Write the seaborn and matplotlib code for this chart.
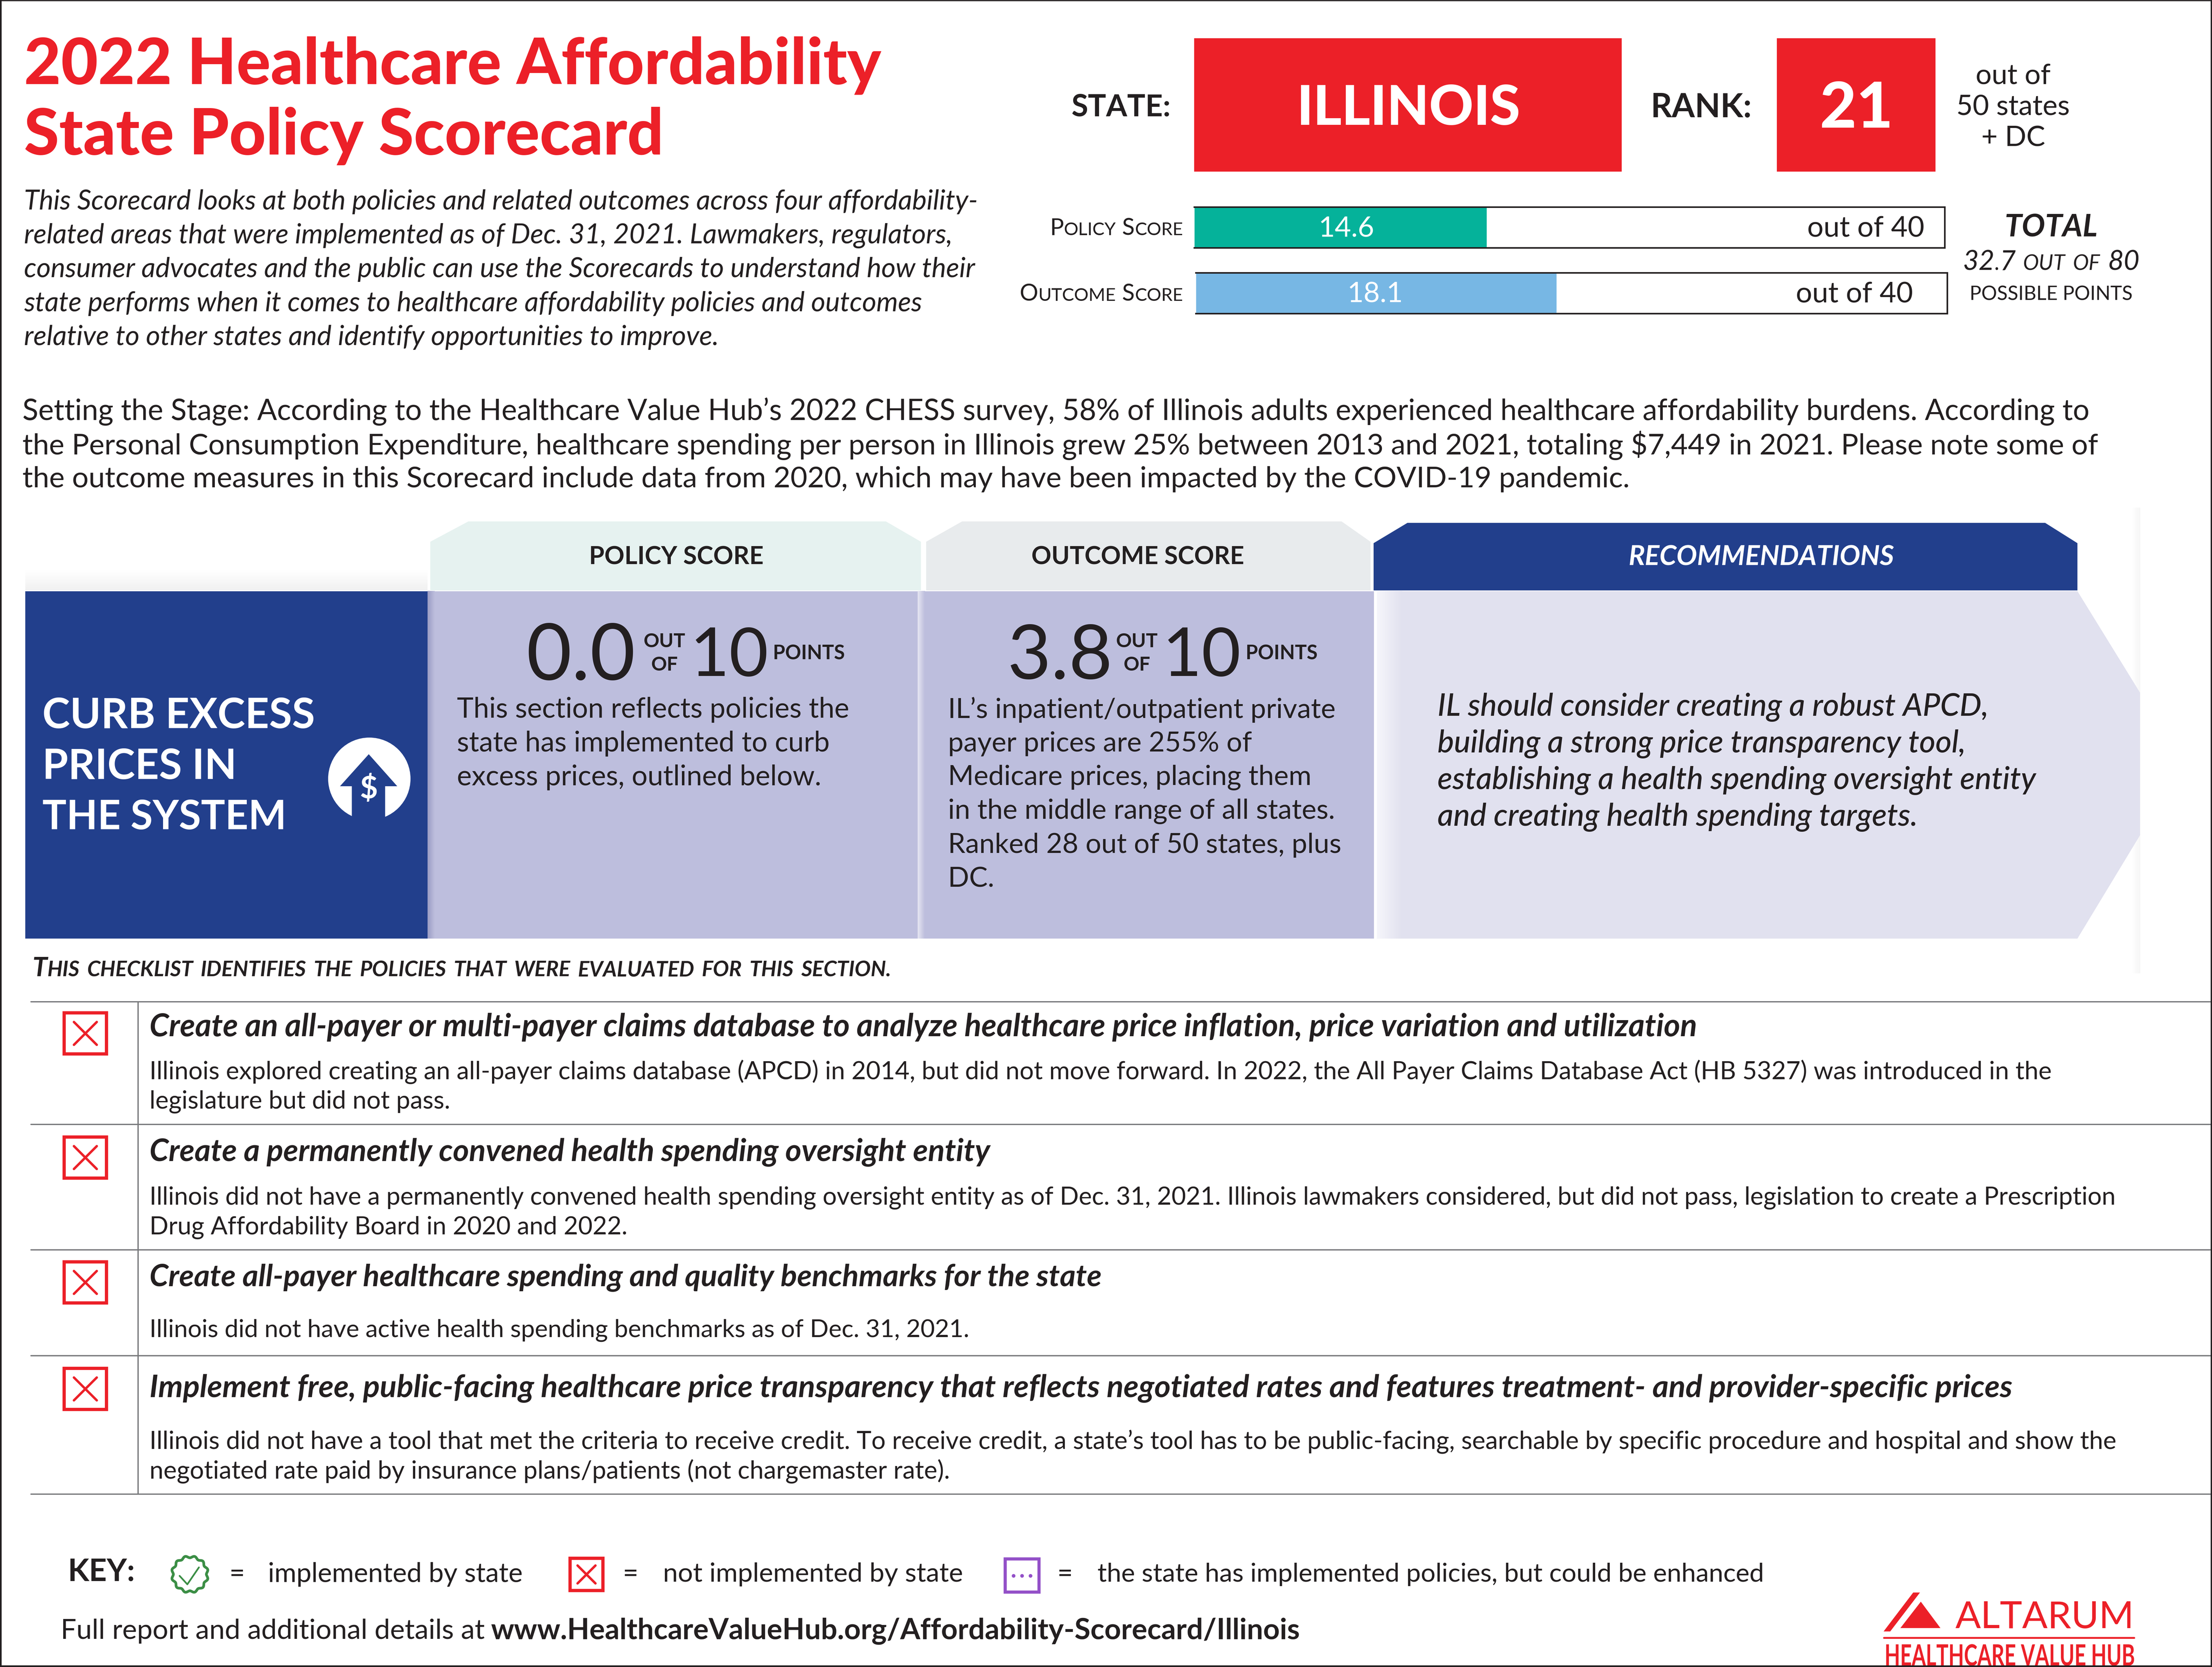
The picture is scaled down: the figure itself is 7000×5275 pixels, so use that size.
#!/usr/bin/env python
import numpy as np
import seaborn as sns
import matplotlib
matplotlib.use('Agg')
import matplotlib.pyplot as plt
from matplotlib.colors import to_rgb
from matplotlib.patches import Polygon, Rectangle, Circle
from matplotlib.patheffects import AbstractPathEffect
from matplotlib.transforms import Affine2D

W, H = 1568, 1181.6  # page units, 1 unit = 4.464 px on the saved file
PT = 7000 / W * 0.72

RED = '#EC2028'
NAVY = '#223F8C'
LILAC = '#BDBEDD'
PALE = '#E1E1EF'
INK = '#231F20'
TEAL = '#05B29A'
SKY = '#77B7E4'
PURPLE = '#9350C8'
GREEN = '#3B8E45'

title_lines = ['2022 Healthcare Affordability', 'State Policy Scorecard']
intro_lines = [
    'This Scorecard looks at both policies and related outcomes across four affordability-',
    'related areas that were implemented as of Dec. 31, 2021. Lawmakers, regulators,',
    'consumer advocates and the public can use the Scorecards to understand how their',
    'state performs when it comes to healthcare affordability policies and outcomes',
    'relative to other states and identify opportunities to improve.',
]
setting_lines = [
    'Setting the Stage: According to the Healthcare Value Hub\u2019s 2022 CHESS survey, 58% of Illinois adults experienced healthcare affordability burdens. According to',
    'the Personal Consumption Expenditure, healthcare spending per person in Illinois grew 25% between 2013 and 2021, totaling $7,449 in 2021. Please note some of',
    'the outcome measures in this Scorecard include data from 2020, which may have been impacted by the COVID-19 pandemic.',
]
state_name = 'ILLINOIS'
state_rank = '21'
rank_note = ['out of', '50 states', '+ DC']

score_names = ['Policy Score', 'Outcome Score']
score_labels = ['14.6', '18.1']
# drawn length of the coloured bars, a bit longer than the printed scores
score_fill = [15.6, 19.2]
score_max = 40
total_score = '32.7'
total_max = '80'

section_title = ['CURB EXCESS', 'PRICES IN', 'THE SYSTEM']
policy_points = '0.0'
outcome_points = '3.8'
section_max = '10'
policy_text = [
    'This section reflects policies the',
    'state has implemented to curb',
    'excess prices, outlined below.',
]
outcome_text = [
    'IL\u2019s inpatient/outpatient private',
    'payer prices are 255% of',
    'Medicare prices, placing them',
    'in the middle range of all states.',
    'Ranked 28 out of 50 states, plus',
    'DC.',
]
rec_lines = [
    'IL should consider creating a robust APCD,',
    'building a strong price transparency tool,',
    'establishing a health spending oversight entity',
    'and creating health spending targets.',
]
checklist_head = 'This checklist identifies the policies that were evaluated for this section.'
check_titles = [
    'Create an all-payer or multi-payer claims database to analyze healthcare price inflation, price variation and utilization',
    'Create a permanently convened health spending oversight entity',
    'Create all-payer healthcare spending and quality benchmarks for the state',
    'Implement free, public-facing healthcare price transparency that reflects negotiated rates and features treatment- and provider-specific prices',
]
check_notes = [
    ['Illinois explored creating an all-payer claims database (APCD) in 2014, but did not move forward. In 2022, the All Payer Claims Database Act (HB 5327) was introduced in the',
     'legislature but did not pass.'],
    ['Illinois did not have a permanently convened health spending oversight entity as of Dec. 31, 2021. Illinois lawmakers considered, but did not pass, legislation to create a Prescription',
     'Drug Affordability Board in 2020 and 2022.'],
    ['Illinois did not have active health spending benchmarks as of Dec. 31, 2021.'],
    ['Illinois did not have a tool that met the criteria to receive credit. To receive credit, a state\u2019s tool has to be public-facing, searchable by specific procedure and hospital and show the',
     'negotiated rate paid by insurance plans/patients (not chargemaster rate).'],
]
key_labels = ['implemented by state', 'not implemented by state',
              'the state has implemented policies, but could be enhanced']
footer_text = 'Full report and additional details at'
footer_url = 'www.HealthcareValueHub.org/Affordability-Scorecard/Illinois'
logo_name = 'ALTARUM'
logo_sub = 'HEALTHCARE VALUE HUB'

sns.set_theme(style='white')
plt.rcParams['font.family'] = ['Lato', 'DejaVu Sans']

fig = plt.figure(figsize=(70, 52.75), dpi=100, facecolor='white')
ax = fig.add_axes([0, 0, 1, 1])
ax.set_xlim(0, W)
ax.set_ylim(H, 0)
ax.set_autoscale_on(False)
ax.axis('off')


class Tall(AbstractPathEffect):
    # stretches a text upward from its baseline, stands in for a condensed face
    def __init__(self, k):
        super().__init__()
        self.k = k

    def draw_path(self, renderer, gc, tpath, affine, rgbFace=None):
        y0 = affine.get_matrix()[1, 2]
        tr = affine + Affine2D().translate(0, -y0).scale(1, self.k).translate(0, y0)
        renderer.draw_path(gc, tpath, tr, rgbFace)


def txt(x, y, s, size, weight='normal', style='normal', color=INK, ha='left', va='center', **kw):
    if va == 'center':
        y = y + size * 0.055  # Lato sits high when centred on its box
    return ax.text(x, y, s, fontsize=size * PT, fontweight=weight, fontstyle=style,
                   color=color, ha=ha, va=va, **kw)


def poly(pts, color, z=1):
    ax.add_patch(Polygon(pts, closed=True, facecolor=color, edgecolor='none', zorder=z))


def shade(x0, x1, y0, y1, c0, c1, vertical=False, z=2):
    # small linear ramp, used for the soft panel edges
    t = np.linspace(0, 1, 32)[:, None]
    img = (1 - t) * np.array(to_rgb(c0)) + t * np.array(to_rgb(c1))
    img = img[:, None, :] if vertical else img[None, :, :]
    ax.imshow(img, extent=(x0, x1, y1, y0), aspect='auto', zorder=z, interpolation='bilinear')


def caps(x, y, s, size, small=0.78, weight='bold', style='normal', color=INK, ha='left', space=0.28):
    # fake small caps: capitals stay big, the rest is set smaller in upper case
    r = fig.canvas.get_renderer()
    parts = []
    for word in s.split(' '):
        w = []
        for ch in word:
            big = ch.isupper() or ch.isdigit()
            if w and w[-1][1] == big:
                w[-1][0] += ch.upper()
            else:
                w.append([ch.upper(), big])
        parts.append(w)
    items, pos = [], 0
    for i, w in enumerate(parts):
        for run, big in w:
            t = txt(0, y, run, size if big else size * small, weight, style, color, va='baseline')
            ext = t.get_window_extent(r)
            items.append((t, pos))
            pos += ext.width / (7000 / W)
        if i < len(parts) - 1:
            pos += size * space
    off = {'left': x, 'right': x - pos, 'center': x - pos / 2}[ha]
    for t, p in items:
        t.set_x(off + p)


def redbox(x0, y0, x1, y1):
    ax.add_patch(Rectangle((x0, y0), x1 - x0, y1 - y0, fill=False, edgecolor=RED, linewidth=2.3 * PT, zorder=3))
    mx, my = (x0 + x1) / 2, (y0 + y1) / 2
    d = (x1 - x0) * 0.27
    ax.plot([mx - d, mx + d], [my - d, my + d], color=RED, lw=1.7 * PT, zorder=3)
    ax.plot([mx - d, mx + d], [my + d, my - d], color=RED, lw=1.7 * PT, zorder=3)


# page frame
ax.plot([0.5, 0.5], [0, H], color=INK, lw=1.2 * PT, zorder=5)
ax.plot([W - 0.5, W - 0.5], [0, H], color=INK, lw=1.2 * PT, zorder=5)
ax.plot([0, W], [0.4, 0.4], color=INK, lw=0.8 * PT, zorder=5)
ax.plot([0, W], [H - 0.6, H - 0.6], color=INK, lw=1.2 * PT, zorder=5)

# title and intro
for y, s in zip([44, 94], title_lines):
    txt(17, y, s, 45.2, weight='black', color=RED)
for y, s in zip([142, 166, 190, 214, 238], intro_lines):
    txt(17, y, s, 19.45, style='italic')
for y, s, fs in zip([290.5, 314.5, 338.5], setting_lines, [20.76, 20.54, 20.7]):
    txt(16, y, s, fs)

# state and rank
txt(830, 75, 'STATE:', 21.5, weight='bold', ha='right')
ax.add_patch(Rectangle((846.5, 27), 303, 94.7, facecolor=RED, edgecolor='none'))
txt(998.5, 75, state_name, 38.8, weight='black', color='white', ha='center')
txt(1170, 75, 'RANK:', 23.5, weight='bold')
ax.add_patch(Rectangle((1259.5, 27), 112.5, 94.7, facecolor=RED, edgecolor='none'))
txt(1316, 75, state_rank, 45, weight='black', color='white', ha='center')
for y, s in zip([53, 75, 97], rank_note):
    txt(1427, y, s, 20, ha='center')

# score bars
bar_boxes = [(846.5, 146.7, 1378.5, 175.6), (847.7, 193.2, 1380.3, 222.2)]
bar_colors = [TEAL, SKY]
note_x = [1364, 1356]
label_nudge = [0.32, -0.05]
for box, name, label, fill, col, nx, nudge in zip(bar_boxes, score_names, score_labels, score_fill,
                                                  bar_colors, note_x, label_nudge):
    x0, y0, x1, y1 = box
    bax = fig.add_axes([x0 / W, 1 - y1 / H, (x1 - x0) / W, (y1 - y0) / H], zorder=3)
    sns.barplot(x=[fill], y=[name], color=col, saturation=1, width=1, ax=bax)
    bax.set_xlim(0, score_max)
    bax.set_ylim(0.5, -0.5)
    bax.set_xlabel('')
    bax.set_ylabel('')
    bax.set_xticks([])
    bax.set_yticks([])
    bax.patch.set_alpha(0)
    sns.despine(ax=bax, left=True, top=False, right=False, bottom=False)
    for sp in ['top', 'bottom', 'right']:
        bax.spines[sp].set_color(INK)
        bax.spines[sp].set_linewidth(1.1 * PT)
    bax.text(fill / 2 + nudge, 0.03, label, fontsize=20 * PT, color='white', ha='center', va='center')
    txt(nx, (y0 + y1) / 2, 'out of %d' % score_max, 20.4, ha='right', zorder=4)
    caps(838.5, (y0 + y1) / 2 + 5.5, name, 16.4, weight='normal', ha='right')

txt(1454, 160, 'TOTAL', 22, weight='bold', style='italic', ha='center')
caps(1454, 191.5, '%s out of %s' % (total_score, total_max), 19.4, weight='normal', style='italic', ha='center')
txt(1454, 208, 'POSSIBLE POINTS', 13.9, ha='center')

# column tabs
poly([(305, 418.5), (305, 384), (332, 369.6), (628, 369.6), (652.8, 384), (652.8, 418.5)], '#E6F2F0')
poly([(656.5, 418.5), (656.5, 384), (682, 369.6), (951, 369.6), (971.5, 384), (971.5, 418.5)], '#E8EBED')
poly([(973.7, 418.5), (973.7, 385), (997.7, 370.6), (1449.7, 370.6), (1472.6, 385), (1472.6, 418.5)], NAVY)
txt(479.5, 394, 'POLICY SCORE', 17.6, weight='bold', ha='center')
txt(806.5, 394, 'OUTCOME SCORE', 17.5, weight='bold', ha='center')
txt(1248.5, 394, 'RECOMMENDATIONS', 19.4, weight='bold', style='italic', color='white', ha='center')

# section band
shade(1511, 1517, 360, 690, '#FFFFFF', '#F6F6F6', z=0.5)
ax.add_patch(Rectangle((18, 419), 285, 246.3, facecolor=NAVY, edgecolor='none'))
ax.add_patch(Rectangle((303, 419), 347.5, 246.3, facecolor=LILAC, edgecolor='none'))
ax.add_patch(Rectangle((655.5, 419), 318.5, 246.3, facecolor=LILAC, edgecolor='none'))
poly([(976, 419), (1472.6, 419), (1517, 491), (1517, 592), (1472.6, 665.3), (976, 665.3)], PALE)
shade(303, 308, 419, 665.3, '#9A9CC4', LILAC)
shade(650.5, 655.5, 419, 665.3, '#E6E6F2', LILAC)
shade(976, 994, 419, 665.3, '#F6F6FB', PALE)
shade(18, 303, 404, 418.5, '#FFFFFF', '#F1F1F1', vertical=True)

for y, s, fs in zip([506, 542, 578], section_title, [29.6, 29.6, 28.6]):
    txt(30, y, s, fs, weight='bold', color='white')

# price-up icon
ax.add_patch(Circle((261.8, 552), 29.2, facecolor='white', edgecolor='none', zorder=3))
poly([(261.4, 534.6), (281.6, 557.3), (273, 557.3), (273, 583), (249.4, 583), (249.4, 557.3), (241, 557.3)], NAVY, z=4)
txt(261.4, 558, '$', 22, weight='bold', color='white', ha='center', zorder=5)

# scores
def points(x0, fs, x_of, x1, x_pts, value):
    txt(x0, 463, value, fs, ha='left')
    txt(x_of, 454, 'OUT', 13.8, weight='bold', ha='center')
    txt(x_of, 470.5, 'OF', 13.8, weight='bold', ha='center')
    txt(x1, 463, section_max, 48, ha='left')
    txt(x_pts, 462.5, 'POINTS', 14, weight='bold', ha='left')


points(373, 55.5, 471, 489, 548, policy_points)
points(714, 53.5, 806, 824, 883, outcome_points)
for y, s in zip([502, 526, 550], policy_text):
    txt(324, y, s, 19.85)
for y, s in zip([502, 526, 550, 574, 598, 622], outcome_text):
    txt(672, y, s, 19.7)
for y, s in zip([500, 526, 552, 578], rec_lines):
    txt(1019, y, s, 22, weight='medium', style='italic')

# checklist
caps(23, 692, checklist_head, 18.9, small=0.8, style='italic')
row_lines = [710, 797, 886, 961, 1059]
for y in row_lines:
    ax.plot([22, W], [y, y], color='#77787B', lw=0.9 * PT, zorder=2)
ax.plot([98, 98], [710, 1059], color='#77787B', lw=0.9 * PT, zorder=2)

box_tops = [718, 806, 894.5, 970]
title_y = [727, 815.5, 904.5, 983]
note_y = [[759, 780], [848, 869], [942], [1021, 1042]]
title_fs = [22.14, 21.9, 21.6, 22.05]
note_fs = [17.75, 17.66, 17.5, 17.78]
for top, ty, title, ny, note, tf, nf in zip(box_tops, title_y, check_titles, note_y, check_notes, title_fs, note_fs):
    redbox(45.5, top, 75.5, top + 29)
    txt(106, ty, title, tf, weight='bold', style='italic')
    for y, s in zip(ny, note):
        txt(106, y, s, nf)

# key
txt(48, 1113, 'KEY:', 22, weight='bold')
ang = np.linspace(0, 2 * np.pi, 240)
rad = 12.4 - 0.7 * np.cos(12 * ang)
ax.plot(134.6 + rad * np.sin(ang), 1115.9 + rad * np.cos(ang), color=GREEN, lw=1.9 * PT, zorder=3)
ax.plot([127.3, 132.8, 141], [1117, 1123, 1111], color=GREEN, lw=1.2 * PT, zorder=3)
txt(168, 1115, '=', 19, ha='center')
txt(190, 1115, key_labels[0], 19)
redbox(404, 1104.5, 427.5, 1127.5)
txt(447, 1115, '=', 19, ha='center')
txt(470, 1115, key_labels[1], 18.9)
ax.add_patch(Rectangle((712.5, 1105), 24, 23.5, fill=False, edgecolor=PURPLE, linewidth=2.2 * PT, zorder=3))
for dx in [-6, 0, 6]:
    ax.add_patch(Circle((724.5 + dx, 1117), 1.3, facecolor=PURPLE, edgecolor='none', zorder=3))
txt(755, 1115, '=', 19, ha='center')
txt(778, 1115, key_labels[2], 18.45)
txt(43, 1155, footer_text, 19.7)
txt(348, 1155, footer_url, 20.5, weight='bold')

# logo
poly([(1356.2, 1128.8), (1361, 1128.8), (1339.9, 1156.4), (1335.2, 1156.4)], RED)
poly([(1361.6, 1135.3), (1375.5, 1154), (1347.1, 1154)], RED)
txt(1386, 1145, logo_name, 26.7, color=RED)
ax.plot([1335.6, 1513], [1161, 1161], color=RED, lw=1.3 * PT, zorder=3)
sub = txt(1335.9, 1180.6, logo_sub, 16, weight='bold', color=RED, va='baseline')
sub_w = sub.get_window_extent(fig.canvas.get_renderer()).width / (7000 / W)
sub.set_fontsize(sub.get_fontsize() * 177.4 / sub_w)
sub.set_path_effects([Tall(15 / (0.72 * 16 * 177.4 / sub_w))])

fig.savefig('out.png', dpi=100)
